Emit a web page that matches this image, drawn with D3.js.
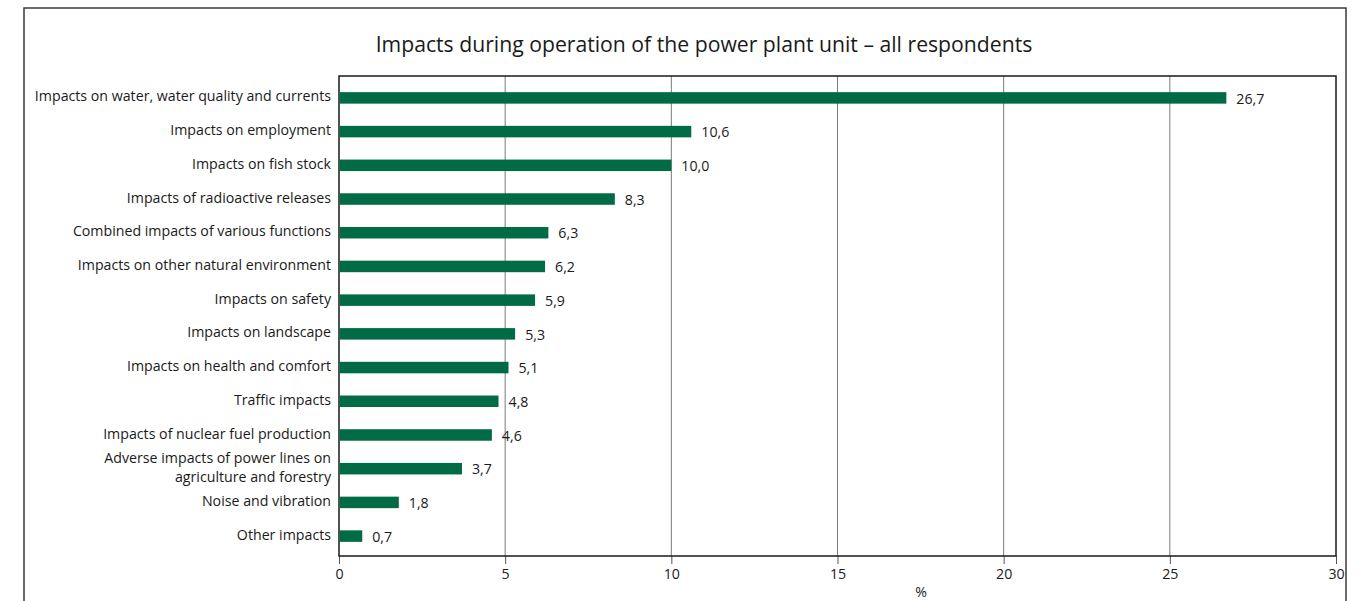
<!DOCTYPE html>
<html>
<head>
<meta charset="utf-8">
<script src="https://cdn.jsdelivr.net/npm/d3@7"></script>
<style>
  html, body { margin: 0; padding: 0; background: #fff; }
  svg { display: block; font-family: "Open Sans", "Noto Sans", sans-serif; }
</style>
</head>
<body>
<svg id="chart" width="1366" height="601"></svg>
<script>
// Survey answers: impacts named during operation of the power plant unit (%)
const categories = [
  "Impacts on water, water quality and currents",
  "Impacts on employment",
  "Impacts on fish stock",
  "Impacts of radioactive releases",
  "Combined impacts of various functions",
  "Impacts on other natural environment",
  "Impacts on safety",
  "Impacts on landscape",
  "Impacts on health and comfort",
  "Traffic impacts",
  "Impacts of nuclear fuel production",
  "Adverse impacts of power lines on\nagriculture and forestry",
  "Noise and vibration",
  "Other impacts"
];
const values = [26.7, 10.6, 10.0, 8.3, 6.3, 6.2, 5.9, 5.3, 5.1, 4.8, 4.6, 3.7, 1.8, 0.7];
const xTicks = [0, 5, 10, 15, 20, 25, 30];
const titleText = "Impacts during operation of the power plant unit \u2013 all respondents";
const axisTitle = "%";

const svg = d3.select("#chart");
const plot = { left: 339, right: 1336, top: 76, bottom: 556 };
const barColor = "#006b45";
const labelSize = 14.2;
const fmt = v => v.toFixed(1).replace(".", ",");

// outer frame
svg.append("rect")
  .attr("x", 24).attr("y", 8)
  .attr("width", 1322).attr("height", 640)
  .attr("fill", "none").attr("stroke", "#3a3a3a").attr("stroke-width", 1.5);

svg.append("text")
  .attr("x", 704).attr("y", 52)
  .attr("text-anchor", "middle")
  .attr("font-size", 21.2)
  .attr("fill", "#1a1a1a")
  .text(titleText);

const x = d3.scaleLinear().domain([0, 30]).range([plot.left, plot.right]);
const y = d3.scalePoint().domain(categories).range([plot.top + 1, plot.bottom + 1]).padding(0.62);

// vertical gridlines
svg.append("g").selectAll("line")
  .data(xTicks.slice(1, -1))
  .join("line")
  .attr("x1", d => x(d)).attr("x2", d => x(d))
  .attr("y1", plot.top).attr("y2", plot.bottom)
  .attr("stroke", "#7a7a7a").attr("stroke-width", 1);

// bottom axis
const xAxis = svg.append("g")
  .attr("transform", `translate(0,${plot.bottom})`)
  .call(d3.axisBottom(x).tickValues(xTicks).tickSize(8).tickPadding(5).tickFormat(d3.format("d")));
xAxis.select(".domain").remove();
xAxis.selectAll(".tick line").attr("stroke", "#555");
xAxis.selectAll(".tick text")
  .attr("font-size", labelSize).attr("fill", "#1a1a1a")
  .attr("font-family", "\"Open Sans\", sans-serif");

// plot border
svg.append("rect")
  .attr("x", plot.left).attr("y", plot.top)
  .attr("width", plot.right - plot.left).attr("height", plot.bottom - plot.top)
  .attr("fill", "none").attr("stroke", "#1a1a1a").attr("stroke-width", 1.5);

svg.append("text")
  .attr("x", 921).attr("y", 597)
  .attr("text-anchor", "middle")
  .attr("font-size", labelSize).attr("fill", "#1a1a1a")
  .text(axisTitle);

const barH = 11.5;
const rows = svg.append("g").selectAll("g")
  .data(categories.map((c, i) => ({ c, v: values[i] })))
  .join("g");

rows.append("rect")
  .attr("x", x(0) + 0.75)
  .attr("y", d => y(d.c) - barH / 2)
  .attr("width", d => x(d.v) - x(0) - 0.75)
  .attr("height", barH)
  .attr("fill", barColor);

rows.append("text")
  .attr("x", d => x(d.v) + 10)
  .attr("y", d => y(d.c))
  .attr("dy", "0.4em")
  .attr("font-size", labelSize).attr("fill", "#1a1a1a")
  .text(d => fmt(d.v));

// category labels, right-aligned against the axis
rows.append("text")
  .attr("x", plot.left - 8)
  .attr("text-anchor", "end")
  .attr("font-size", labelSize).attr("fill", "#1a1a1a")
  .each(function(d) {
    const lines = d.c.split("\n");
    const t = d3.select(this);
    const cy = y(d.c);
    const offsets = lines.length === 1 ? [0] : [-9.5, 10];
    lines.forEach((ln, k) => {
      t.append("tspan")
        .attr("x", plot.left - 8)
        .attr("y", cy + offsets[k])
        .attr("dy", "0.25em")
        .text(ln);
    });
  });
</script>
</body>
</html>
